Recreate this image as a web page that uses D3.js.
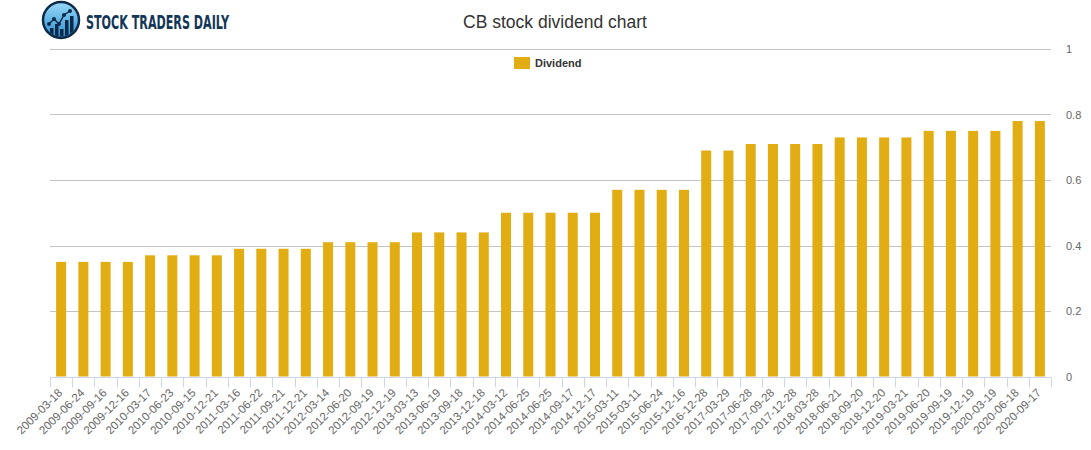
<!DOCTYPE html>
<html>
<head>
<meta charset="utf-8">
<script src="https://cdn.jsdelivr.net/npm/d3@7"></script>
<style>
  body { margin: 0; background: #fff; }
  svg { font-family: "Liberation Sans", Arial, sans-serif; }
</style>
</head>
<body>
<div id="chart"></div>
<script>
// payment dates, one bar each
var dates = [
  '2009-03-18', '2009-06-24', '2009-09-16', '2009-12-16',
  '2010-03-17', '2010-06-23', '2010-09-15', '2010-12-21',
  '2011-03-16', '2011-06-22', '2011-09-21', '2011-12-21',
  '2012-03-14', '2012-06-20', '2012-09-19', '2012-12-19',
  '2013-03-13', '2013-06-19', '2013-09-18', '2013-12-18',
  '2014-03-12', '2014-06-25', '2014-06-25', '2014-09-17', '2014-12-17',
  '2015-03-11', '2015-03-11', '2015-06-24', '2015-12-16',
  '2016-12-28', '2017-03-29',
  '2017-06-28', '2017-09-28', '2017-12-28', '2018-03-28',
  '2018-06-21', '2018-09-20', '2018-12-20', '2019-03-21',
  '2019-06-20', '2019-09-19', '2019-12-19', '2020-03-19',
  '2020-06-18', '2020-09-17'
]

var dividends = [
  0.35, 0.35, 0.35, 0.35,
  0.37, 0.37, 0.37, 0.37,
  0.39, 0.39, 0.39, 0.39,
  0.41, 0.41, 0.41, 0.41,
  0.44, 0.44, 0.44, 0.44,
  0.50, 0.50, 0.50, 0.50, 0.50,
  0.57, 0.57, 0.57, 0.57,
  0.69, 0.69,
  0.71, 0.71, 0.71, 0.71,
  0.73, 0.73, 0.73, 0.73,
  0.75, 0.75, 0.75, 0.75,
  0.78, 0.78
]

var yTicks = [0, 0.2, 0.4, 0.6, 0.8, 1]

var barC = '#e1ad13'
var gridC = '#c4c4c4'
var axisC = '#ccd6eb'
var labelC = '#666'

var width = 1091
var height = 450
var margin = { top: 49, right: 40, bottom: 73, left: 50 }

var svg = d3.select('#chart').append('svg')
  .attr('width', width)
  .attr('height', height)

var data = dates.map(function (d, i) { return { date: d, value: dividends[i], idx: i } })

var x = d3.scaleBand()
  .domain(data.map(d => d.idx))
  .range([margin.left, width - margin.right])
  .paddingInner(0.55)
  .paddingOuter(0.275)

var xEdges = d3.scaleBand()
  .domain(data.map(d => d.idx))
  .range([margin.left, width - margin.right])

var y = d3.scaleLinear()
  .domain([0, 1])
  .range([height - margin.bottom - 0.5, margin.top])

// ----------------------------------------
// Grid + y axis (right side)
// ----------------------------------------

svg.append('g')
  .attr('class', 'grid')
  .selectAll('line')
  .data(yTicks.filter(t => t > 0))
  .enter().append('line')
    .attr('x1', margin.left)
    .attr('x2', width - margin.right)
    .attr('y1', d => Math.round(y(d)) + 0.5)
    .attr('y2', d => Math.round(y(d)) + 0.5)
    .style('stroke', gridC)
    .style('stroke-width', 1)

var yAxis = svg.append('g')
  .attr('transform', 'translate(' + (width - margin.right) + ',0)')
  .call(d3.axisRight(y).tickValues(yTicks).tickSize(0).tickPadding(15)
    .tickFormat(d3.format('~g')))
yAxis.select('.domain').remove()
yAxis.selectAll('text')
  .style('fill', labelC)
  .style('font-size', '11px')
  .style('font-family', '"Liberation Sans", Arial, sans-serif')

// ----------------------------------------
// Bars
// ----------------------------------------

svg.append('g')
  .attr('class', 'bars')
  .selectAll('rect')
  .data(data)
  .enter().append('rect')
    .attr('x', d => x(d.idx))
    .attr('width', x.bandwidth())
    .attr('y', d => y(d.value))
    .attr('height', d => y(0) - y(d.value))
    .style('fill', barC)

// ----------------------------------------
// x axis
// ----------------------------------------

var xAxisG = svg.append('g')
  .attr('transform', 'translate(0,' + (Math.round(y(0)) + 0.5) + ')')

xAxisG.append('line')
  .attr('x1', margin.left)
  .attr('x2', width - margin.right)
  .style('stroke', axisC)

var edges = data.map(d => xEdges(d.idx)).concat([width - margin.right])
xAxisG.selectAll('line.tick')
  .data(edges)
  .enter().append('line')
    .attr('class', 'tick')
    .attr('x1', d => Math.round(d) + 0.5)
    .attr('x2', d => Math.round(d) + 0.5)
    .attr('y1', 0)
    .attr('y2', 10)
    .style('stroke', axisC)

xAxisG.selectAll('text')
  .data(data)
  .enter().append('text')
    .attr('transform', d => 'translate(' + (x(d.idx) + x.bandwidth() / 2 + 2) + ',16) rotate(-45)')
    .style('text-anchor', 'end')
    .style('fill', labelC)
    .style('font-size', '11.5px')
    .text(d => d.date)

// ----------------------------------------
// Title + legend
// ----------------------------------------

svg.append('text')
  .attr('x', 555)
  .attr('y', 28)
  .style('text-anchor', 'middle')
  .style('fill', '#333')
  .style('font-size', '17.5px')
  .text('CB stock dividend chart')

svg.append('rect')
  .attr('x', 514)
  .attr('y', 57)
  .attr('width', 16)
  .attr('height', 12)
  .style('fill', barC)

svg.append('text')
  .attr('x', 535)
  .attr('y', 67)
  .style('fill', '#333')
  .style('font-size', '11px')
  .style('font-weight', 'bold')
  .text('Dividend')

// ----------------------------------------
// Logo
// ----------------------------------------

var defs = svg.append('defs')
var grad = defs.append('linearGradient')
  .attr('id', 'logoGrad')
  .attr('x1', '0%').attr('y1', '0%')
  .attr('x2', '0%').attr('y2', '100%')
grad.append('stop').attr('offset', '0%').attr('stop-color', '#9ad9f7')
grad.append('stop').attr('offset', '100%').attr('stop-color', '#2c8fd3')

var logo = svg.append('g').attr('transform', 'translate(61,20)')
logo.append('circle')
  .attr('r', 18)
  .style('fill', 'url(#logoGrad)')
  .style('stroke', '#0d2a48')
  .style('stroke-width', 2.5)

defs.append('clipPath').attr('id', 'logoClip')
  .append('circle').attr('r', 16.5)

var logoBars = logo.append('g').attr('clip-path', 'url(#logoClip)')
var barsL = [[-11, 8], [-6, 4], [-1, 9], [4, 0], [9, -4]]
barsL.forEach(function (b) {
  logoBars.append('rect')
    .attr('x', b[0]).attr('y', b[1])
    .attr('width', 3.5).attr('height', 20)
    .style('fill', '#0d2a48')
})
var linePts = [[-12, 4], [-7, -1], [-2, 4], [3, -5], [9, -9]]
logo.append('path')
  .attr('d', d3.line()(linePts))
  .style('fill', 'none')
  .style('stroke', '#0d2a48')
  .style('stroke-width', 1.5)
logo.selectAll('circle.pt')
  .data(linePts)
  .enter().append('circle')
    .attr('class', 'pt')
    .attr('cx', d => d[0]).attr('cy', d => d[1])
    .attr('r', 2)
    .style('fill', '#0d2a48')

svg.append('text')
  .attr('x', 86)
  .attr('y', 29)
  .attr('textLength', 143)
  .attr('lengthAdjust', 'spacingAndGlyphs')
  .style('fill', '#123657')
  .style('font-family', '"DejaVu Sans Condensed", "Liberation Sans Narrow", sans-serif')
  .style('font-weight', 'bold')
  .style('font-size', '20px')
  .text('STOCK TRADERS DAILY')
</script>
</body>
</html>
